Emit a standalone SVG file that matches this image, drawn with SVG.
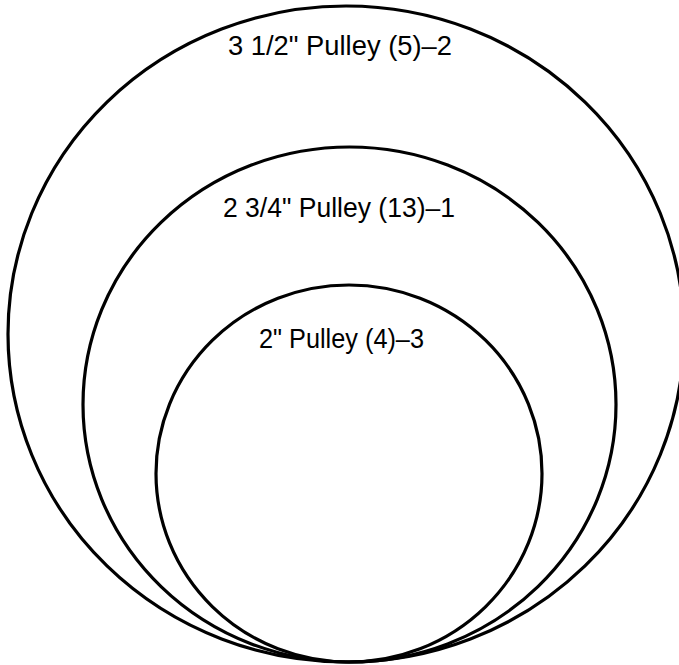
<svg xmlns="http://www.w3.org/2000/svg" width="679" height="665" viewBox="0 0 679 665">
<style>
.ring{fill:none;stroke:#000;stroke-width:3.2}
.lbl{font-family:"Liberation Sans",Arial,sans-serif;font-size:27px;fill:#000;text-anchor:middle}
</style>
<rect width="679" height="665" fill="#fff"/>
<g id="pulley-3-5">
<ellipse class="ring" cx="346" cy="334" rx="338" ry="328"/>
<text class="lbl" x="340" y="55" textLength="224" lengthAdjust="spacingAndGlyphs">3 1/2" Pulley (5)–2</text>
</g>
<g id="pulley-2-75">
<ellipse class="ring" cx="349.5" cy="404.5" rx="266.5" ry="257.5"/>
<text class="lbl" x="339" y="217" textLength="232" lengthAdjust="spacingAndGlyphs">2 3/4" Pulley (13)–1</text>
</g>
<g id="pulley-2">
<ellipse class="ring" cx="349" cy="473.5" rx="193" ry="188.5"/>
<text class="lbl" x="341.5" y="348" textLength="165" lengthAdjust="spacingAndGlyphs">2" Pulley (4)–3</text>
</g>
</svg>
